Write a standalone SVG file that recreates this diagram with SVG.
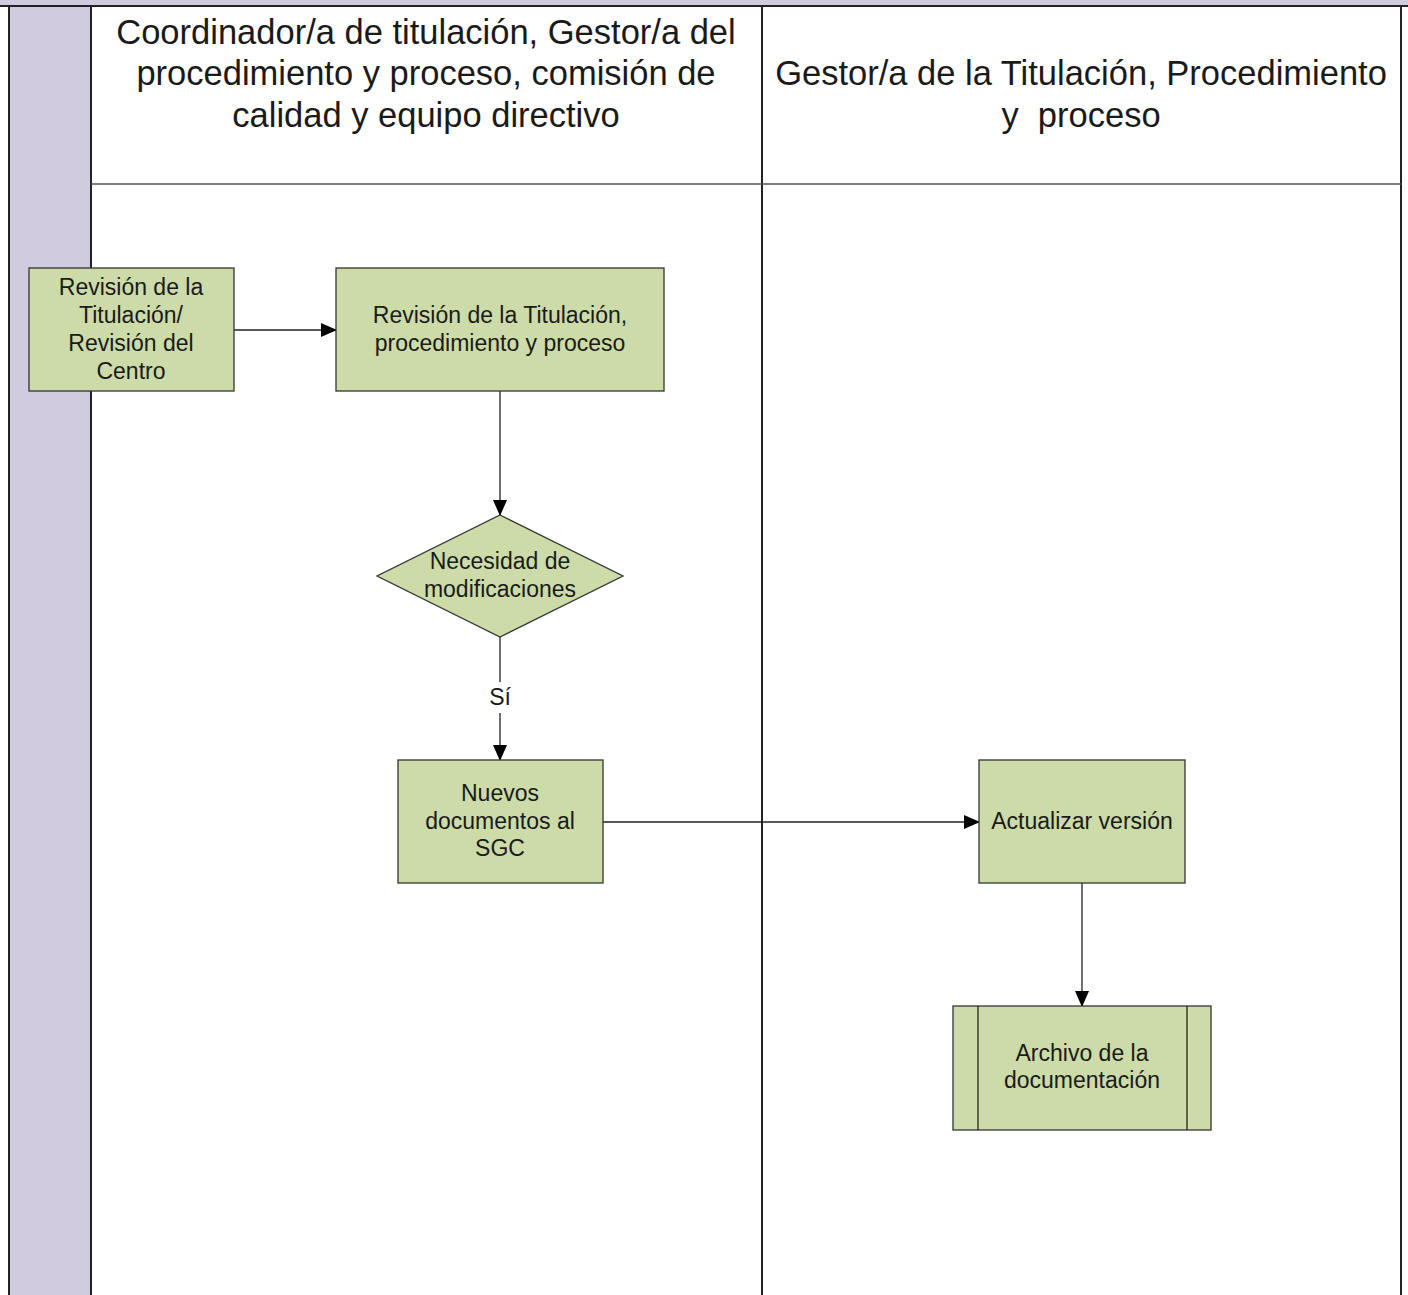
<svg xmlns="http://www.w3.org/2000/svg" width="1408" height="1295" viewBox="0 0 1408 1295">
<defs>
<style>
.node{fill:#CCDBA8;stroke:#333;stroke-width:1.3}
.t{font-family:"Liberation Sans",Arial,sans-serif;font-size:23px;fill:#1a1a1a;text-anchor:middle;dominant-baseline:central}
.h{font-family:"Liberation Sans",Arial,sans-serif;font-size:34.5px;fill:#1a1a1a;text-anchor:middle;dominant-baseline:central}
.c{stroke:#222;stroke-width:1.3;fill:none}
.lane{stroke:#222;stroke-width:2;fill:none}
</style>
<marker id="arr" markerWidth="16" markerHeight="14" refX="15" refY="7" orient="auto" markerUnits="userSpaceOnUse">
<path d="M0,0 L16,7 L0,14 Z" fill="#000"/>
</marker>
</defs>
<rect x="0" y="0" width="1408" height="1295" fill="#fff"/>
<g id="lanes">
<rect x="0" y="0" width="1408" height="6" fill="#D1CBE0"/>
<rect x="9" y="6" width="82" height="1289" fill="#D1CBE0"/>
<line class="lane" x1="0" y1="6" x2="1408" y2="6"/>
<line class="lane" x1="9" y1="6" x2="9" y2="1295"/>
<line class="lane" x1="91" y1="6" x2="91" y2="1295"/>
<line class="lane" x1="762" y1="6" x2="762" y2="1295"/>
<line class="lane" x1="1401" y1="6" x2="1401" y2="1295"/>
<line x1="91" y1="184" x2="1401" y2="184" stroke="#555" stroke-width="1.5"/>
<text class="h" x="426" y="32">Coordinador/a de titulación, Gestor/a del</text>
<text class="h" x="426" y="73">procedimiento y proceso, comisión de</text>
<text class="h" x="426" y="115">calidad y equipo directivo</text>
<text class="h" x="1081" y="73">Gestor/a de la Titulación, Procedimiento</text>
<text class="h" x="1081" y="115" xml:space="preserve">y  proceso</text>
</g>
<g id="connectors">
<line class="c" x1="234" y1="330" x2="336" y2="330" marker-end="url(#arr)"/>
<line class="c" x1="500" y1="391" x2="500" y2="515" marker-end="url(#arr)"/>
<line class="c" x1="500" y1="637" x2="500" y2="682"/>
<line class="c" x1="500" y1="713" x2="500" y2="760" marker-end="url(#arr)"/>
<text class="t" x="500" y="697">Sí</text>
<line class="c" x1="603" y1="822" x2="979" y2="822" marker-end="url(#arr)"/>
<line class="c" x1="1082" y1="883" x2="1082" y2="1006" marker-end="url(#arr)"/>
</g>
<g id="n1">
<rect class="node" x="29" y="268" width="205" height="123"/>
<text class="t" x="131" y="287">Revisión de la</text>
<text class="t" x="131" y="315">Titulación/</text>
<text class="t" x="131" y="343">Revisión del</text>
<text class="t" x="131" y="371">Centro</text>
</g>
<g id="n2">
<rect class="node" x="336" y="268" width="328" height="123"/>
<text class="t" x="500" y="315">Revisión de la Titulación,</text>
<text class="t" x="500" y="343">procedimiento y proceso</text>
</g>
<g id="n3">
<polygon class="node" points="500,515 623,576 500,637 377,576"/>
<text class="t" x="500" y="561">Necesidad de</text>
<text class="t" x="500" y="589">modificaciones</text>
</g>
<g id="n4">
<rect class="node" x="398" y="760" width="205" height="123"/>
<text class="t" x="500" y="793">Nuevos</text>
<text class="t" x="500" y="821">documentos al</text>
<text class="t" x="500" y="848">SGC</text>
</g>
<g id="n5">
<rect class="node" x="979" y="760" width="206" height="123"/>
<text class="t" x="1082" y="821">Actualizar versión</text>
</g>
<g id="n6">
<rect class="node" x="953" y="1006" width="258" height="124"/>
<line class="c" x1="978" y1="1006" x2="978" y2="1130"/>
<line class="c" x1="1187" y1="1006" x2="1187" y2="1130"/>
<text class="t" x="1082" y="1053">Archivo de la</text>
<text class="t" x="1082" y="1080">documentación</text>
</g>
</svg>
